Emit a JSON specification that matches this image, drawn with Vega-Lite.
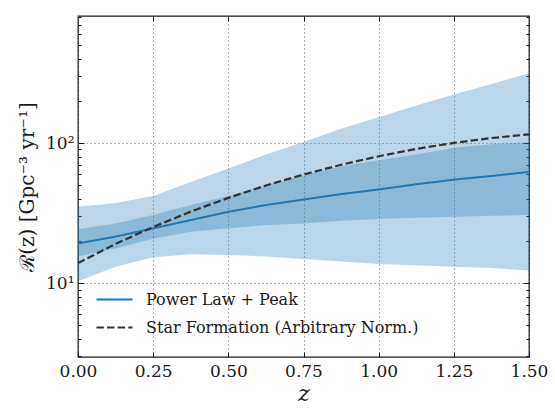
{
  "$schema": "https://vega.github.io/schema/vega-lite/v6.json",
  "width": 451,
  "height": 341,
  "autosize": {"type": "none"},
  "padding": {"left": 78, "top": 16, "right": 26, "bottom": 60},
  "background": "white",
  "config": {
    "font": "DejaVu Serif",
    "view": {"stroke": "#1a1a1a", "strokeWidth": 1.3},
    "axis": {"domain": false, "zindex": 1, "labelFont": "DejaVu Serif", "titleFont": "DejaVu Serif", "labelColor": "#1a1a1a", "titleColor": "#1a1a1a", "tickColor": "#1a1a1a", "tickWidth": 1, "gridColor": "#666666", "gridDash": [1, 3], "gridWidth": 1, "titleFontWeight": "normal", "labelFlush": false, "labelOverlap": false},
    "legend": {"padding": 0, "labelFont": "DejaVu Serif", "labelFontSize": 16, "labelColor": "#1a1a1a", "labelLimit": 0, "symbolType": "stroke", "symbolSize": 1300, "symbolStrokeWidth": 2, "labelOffset": 12, "rowPadding": 0, "titlePadding": 0}
  },
  "datasets": {
    "bands": [
      {"z": 0.0, "lo90": 10.3, "hi90": 35.1, "lo50": 15.5, "hi50": 24.2},
      {"z": 0.125, "lo90": 13.1, "hi90": 37.4, "lo50": 17.7, "hi50": 26.7},
      {"z": 0.25, "lo90": 15.3, "hi90": 41.8, "lo50": 20.7, "hi50": 30.6},
      {"z": 0.375, "lo90": 16.1, "hi90": 52.8, "lo50": 23.3, "hi50": 36.1},
      {"z": 0.5, "lo90": 15.9, "hi90": 65.7, "lo50": 24.6, "hi50": 41.8},
      {"z": 0.625, "lo90": 15.5, "hi90": 83.0, "lo50": 26.0, "hi50": 50.0},
      {"z": 0.75, "lo90": 14.9, "hi90": 101.6, "lo50": 26.7, "hi50": 58.9},
      {"z": 0.875, "lo90": 14.3, "hi90": 126.5, "lo50": 27.9, "hi50": 68.2},
      {"z": 1.0, "lo90": 13.7, "hi90": 153.1, "lo50": 28.7, "hi50": 75.3},
      {"z": 1.125, "lo90": 13.4, "hi90": 185.3, "lo50": 29.3, "hi50": 83.0},
      {"z": 1.25, "lo90": 13.1, "hi90": 221.9, "lo50": 29.8, "hi50": 92.6},
      {"z": 1.375, "lo90": 12.8, "hi90": 264.1, "lo50": 30.3, "hi50": 97.9},
      {"z": 1.5, "lo90": 12.3, "hi90": 314.6, "lo50": 30.6, "hi50": 101.6}
    ],
    "lines": [
      {"series": "Power Law + Peak", "z": 0.0, "rate": 19.2},
      {"series": "Power Law + Peak", "z": 0.125, "rate": 21.5},
      {"series": "Power Law + Peak", "z": 0.25, "rate": 24.6},
      {"series": "Power Law + Peak", "z": 0.375, "rate": 28.2},
      {"series": "Power Law + Peak", "z": 0.5, "rate": 32.3},
      {"series": "Power Law + Peak", "z": 0.625, "rate": 36.1},
      {"series": "Power Law + Peak", "z": 0.75, "rate": 39.5},
      {"series": "Power Law + Peak", "z": 0.875, "rate": 43.2},
      {"series": "Power Law + Peak", "z": 1.0, "rate": 46.6},
      {"series": "Power Law + Peak", "z": 1.125, "rate": 50.8},
      {"series": "Power Law + Peak", "z": 1.25, "rate": 54.8},
      {"series": "Power Law + Peak", "z": 1.375, "rate": 58.2},
      {"series": "Power Law + Peak", "z": 1.5, "rate": 62.2},
      {"series": "Star Formation (Arbitrary Norm.)", "z": 0.0, "rate": 13.9},
      {"series": "Star Formation (Arbitrary Norm.)", "z": 0.125, "rate": 19.06},
      {"series": "Star Formation (Arbitrary Norm.)", "z": 0.25, "rate": 25.2},
      {"series": "Star Formation (Arbitrary Norm.)", "z": 0.375, "rate": 32.4},
      {"series": "Star Formation (Arbitrary Norm.)", "z": 0.5, "rate": 40.6},
      {"series": "Star Formation (Arbitrary Norm.)", "z": 0.625, "rate": 49.8},
      {"series": "Star Formation (Arbitrary Norm.)", "z": 0.75, "rate": 59.6},
      {"series": "Star Formation (Arbitrary Norm.)", "z": 0.875, "rate": 70.0},
      {"series": "Star Formation (Arbitrary Norm.)", "z": 1.0, "rate": 80.5},
      {"series": "Star Formation (Arbitrary Norm.)", "z": 1.125, "rate": 90.8},
      {"series": "Star Formation (Arbitrary Norm.)", "z": 1.25, "rate": 100.3},
      {"series": "Star Formation (Arbitrary Norm.)", "z": 1.375, "rate": 108.6},
      {"series": "Star Formation (Arbitrary Norm.)", "z": 1.5, "rate": 115.3}
    ]
  },
  "layer": [
    {
      "data": {"name": "bands"},
      "mark": {"type": "area", "color": "#1f77b4", "opacity": 0.3},
      "encoding": {
        "x": {"field": "z", "type": "quantitative", "scale": {"domain": [0, 1.5], "nice": false},
          "axis": {"orient": "bottom", "values": [0, 0.25, 0.5, 0.75, 1.0, 1.25, 1.5], "format": ".2f", "grid": true, "tickSize": -5, "labelPadding": 11, "labelFontSize": 17, "title": "z", "titleFontStyle": "italic", "titleFontSize": 22, "titlePadding": 4}},
        "y": {"field": "hi90", "type": "quantitative", "scale": {"type": "log", "domain": [2.97, 807], "nice": false, "zero": false},
          "axis": {"orient": "left", "values": [10, 100], "labelExpr": "datum.value == 10 ? '10¹' : '10²'", "grid": true, "tickSize": -6, "labelPadding": 10, "labelFontSize": 17, "title": "ℛ(z) [Gpc⁻³ yr⁻¹]", "titleFontSize": 20, "titlePadding": 8}},
        "y2": {"field": "lo90"}
      }
    },
    {
      "data": {"name": "bands"},
      "mark": {"type": "area", "color": "#1f77b4", "opacity": 0.3},
      "encoding": {
        "x": {"field": "z", "type": "quantitative",
          "axis": {"orient": "top", "values": [0.25, 0.5, 0.75, 1.0, 1.25], "grid": false, "labels": false, "tickSize": -5, "title": null}},
        "y": {"field": "hi50", "type": "quantitative",
          "axis": {"orient": "left", "values": [3, 4, 5, 6, 7, 8, 9, 20, 30, 40, 50, 60, 70, 80, 90, 200, 300, 400, 500, 600, 700, 800], "grid": false, "labels": false, "tickSize": -3, "title": null}},
        "y2": {"field": "lo50"}
      }
    },
    {
      "data": {"name": "lines"},
      "transform": [{"filter": "datum.series == 'Power Law + Peak'"}],
      "mark": {"type": "line", "strokeWidth": 2},
      "encoding": {
        "x": {"field": "z", "type": "quantitative", "axis": null},
        "y": {"field": "rate", "type": "quantitative",
          "axis": {"orient": "right", "values": [10, 100], "grid": false, "labels": false, "tickSize": -6, "title": null}},
        "color": {"field": "series", "type": "nominal",
          "scale": {"domain": ["Power Law + Peak", "Star Formation (Arbitrary Norm.)"], "range": ["#1f77b4", "#333333"]},
          "legend": {"orient": "none", "legendX": 17, "legendY": 264, "title": null}},
        "strokeDash": {"field": "series", "type": "nominal",
          "scale": {"domain": ["Power Law + Peak", "Star Formation (Arbitrary Norm.)"], "range": [[1, 0], [7.4, 3.2]]},
          "legend": {"orient": "none", "legendX": 17, "legendY": 264, "title": null}}
      }
    },
    {
      "data": {"name": "lines"},
      "transform": [{"filter": "datum.series != 'Power Law + Peak'"}],
      "mark": {"type": "line", "strokeWidth": 2.2},
      "encoding": {
        "x": {"field": "z", "type": "quantitative", "axis": null},
        "y": {"field": "rate", "type": "quantitative",
          "axis": {"orient": "right", "values": [3, 4, 5, 6, 7, 8, 9, 20, 30, 40, 50, 60, 70, 80, 90, 200, 300, 400, 500, 600, 700, 800], "grid": false, "labels": false, "tickSize": -3, "title": null}},
        "color": {"field": "series", "type": "nominal",
          "legend": {"orient": "none", "legendX": 17, "legendY": 264, "title": null}},
        "strokeDash": {"field": "series", "type": "nominal",
          "legend": {"orient": "none", "legendX": 17, "legendY": 264, "title": null}}
      }
    }
  ],
  "resolve": {"axis": {"x": "independent", "y": "independent"}}
}
